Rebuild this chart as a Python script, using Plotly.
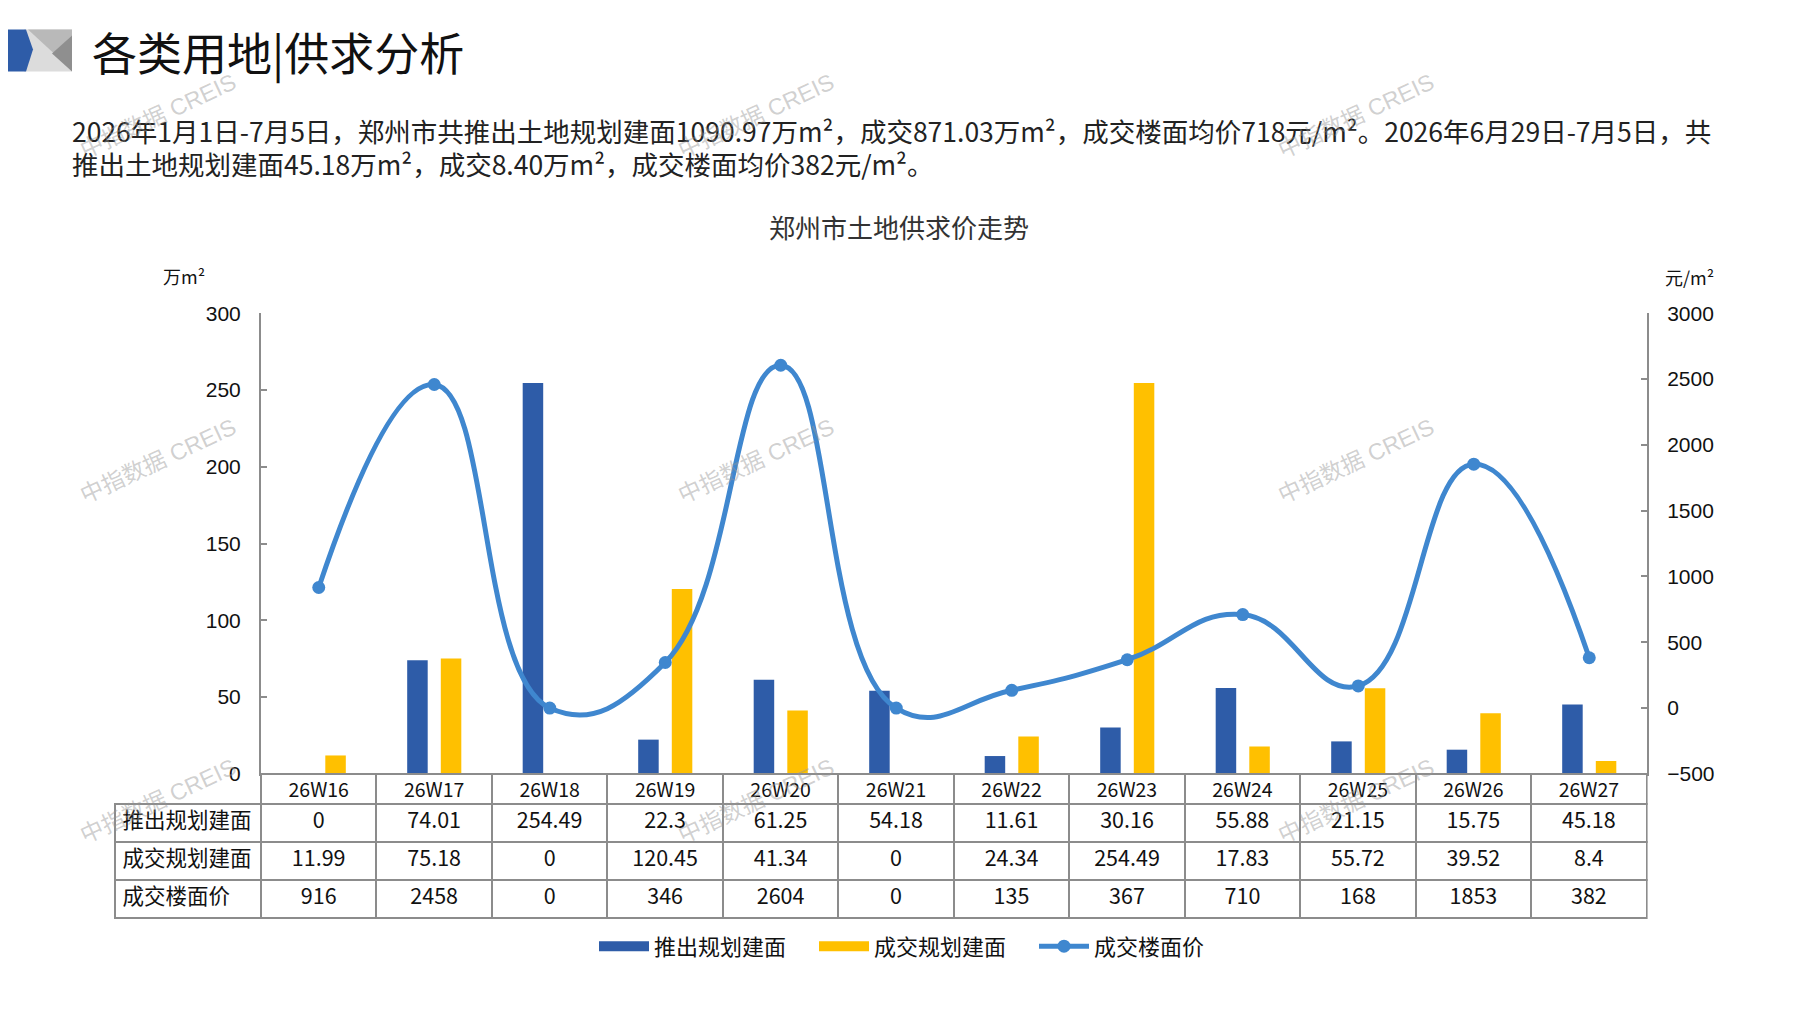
import plotly.graph_objs as go

# data
weeks = ["26W16", "26W17", "26W18", "26W19", "26W20", "26W21",
         "26W22", "26W23", "26W24", "26W25", "26W26", "26W27"]
supply_area = [0, 74.01, 254.49, 22.3, 61.25, 54.18, 11.61, 30.16, 55.88, 21.15, 15.75, 45.18]
deal_area = [11.99, 75.18, 0, 120.45, 41.34, 0, 24.34, 254.49, 17.83, 55.72, 39.52, 8.4]
deal_price = [916, 2458, 0, 346, 2604, 0, 135, 367, 710, 168, 1853, 382]
series_names = ["推出规划建面", "成交规划建面", "成交楼面价"]

# page is 1797x1010, the html body adds an 8px margin around the figure
PAD = 8
W, H = 1797 - 2 * PAD, 1010 - 2 * PAD
BLUE = "#2E5CA8"
GOLD = "#FFC000"
LINE = "#3F87CF"
GRID = "#8c8c8c"
CJK = "Noto Sans CJK SC"


def px(x):
    return (x - PAD) / W


def py(y):
    # vertical fix measured against the screenshot
    t = (y - 10.7) / 0.977
    return 1 - (t - PAD) / H


fig = go.Figure()

fig.add_trace(go.Bar(x=weeks, y=supply_area, name=series_names[0], showlegend=False,
                     marker=dict(color=BLUE, line=dict(width=0))))
fig.add_trace(go.Bar(x=weeks, y=deal_area, name=series_names[1], showlegend=False,
                     marker=dict(color=GOLD, line=dict(width=0))))
# wide legend swatches like the excel legend
for nm, col in zip(series_names[:2], [BLUE, GOLD]):
    fig.add_trace(go.Scatter(x=[None], y=[None], name=nm, mode="lines",
                             line=dict(color=col, width=12)))
fig.add_trace(go.Scatter(x=weeks, y=deal_price, name=series_names[2], yaxis="y2",
                         mode="lines+markers",
                         line=dict(color=LINE, width=5, shape="spline", smoothing=1.3),
                         marker=dict(color=LINE, size=13)))

# data table under the plot (Excel style)
fmt = lambda v: f"{v:g}"
cols = [series_names] + [[fmt(a), fmt(b), fmt(c)]
                         for a, b, c in zip(supply_area, deal_area, deal_price)]
fig.add_trace(go.Table(
    domain=dict(x=[px(114.6), px(1647)], y=[py(922), py(772.5)]),
    columnwidth=[146.4] + [115.5] * len(weeks),
    header=dict(values=[""] + weeks, height=30,
                align="center",
                fill=dict(color=["rgba(0,0,0,0)"] + ["white"] * len(weeks)),
                line=dict(color=["rgba(0,0,0,0)"] + [GRID] * len(weeks), width=2),
                font=dict(family=CJK, size=19.5, color="#111")),
    cells=dict(values=cols, height=38,
               align=["left"] + ["center"] * len(weeks),
               fill=dict(color="white"),
               line=dict(color=GRID, width=2),
               font=dict(family=CJK, size=21.5, color="#111")),
))

axis_font = dict(family="Liberation Sans, Arial", size=21, color="#111")

fig.update_layout(
    width=W, height=H,
    margin=dict(l=0, r=0, t=0, b=0),
    paper_bgcolor="white", plot_bgcolor="white",
    barmode="group", bargap=0.418, bargroupgap=0.39,
    xaxis=dict(domain=[px(261), px(1647)], range=[-0.5, 11.5],
               showticklabels=False, ticks="", showgrid=False,
               showline=True, linecolor=GRID, linewidth=2),
    yaxis=dict(domain=[py(772.5), py(311.7)], range=[0, 300], dtick=50,
               showgrid=False, zeroline=False,
               showline=True, linecolor=GRID, linewidth=2,
               ticks="inside", ticklen=6, tickcolor=GRID, tickwidth=1.5,
               ticklabelstandoff=14, tickfont=axis_font),
    yaxis2=dict(overlaying="y", side="right", range=[-500, 3000], dtick=500,
                showgrid=False, zeroline=False,
                showline=True, linecolor=GRID, linewidth=2,
                ticks="inside", ticklen=6, tickcolor=GRID, tickwidth=1.5,
                ticklabelstandoff=14, tickfont=axis_font),
    legend=dict(orientation="h", x=px(924), xanchor="center",
                y=py(945), yanchor="middle",
                font=dict(family=CJK, size=22, color="#111"),
                itemwidth=50, entrywidth=155, traceorder="normal"),
    showlegend=True,
)

# header logo
logo = [
    ([(24, 28), (72, 28), (72, 70), (24, 70)], "#dcdcdc"),
    ([(28, 28), (72, 28), (72, 34), (54, 52)], "#b9b9b9"),
    ([(72, 34), (72, 70), (52, 52)], "#8f8f8f"),
    ([(0, 28), (26, 28), (33, 48), (26, 70), (0, 70)], BLUE),
]
for pts, col in logo:
    path = "M" + " L".join(f"{px(x):.5f},{py(y):.5f}" for x, y in pts) + " Z"
    fig.add_shape(type="path", xref="paper", yref="paper", path=path,
                  fillcolor=col, line=dict(width=0), layer="above")

notes = [
    dict(text="各类用地|供求分析", x=px(90), y=py(50), xanchor="left",
         font=dict(family=CJK, size=45, color="#111")),
    dict(text="2026年1月1日-7月5日，郑州市共推出土地规划建面1090.97万m²，成交871.03万m²，"
              "成交楼面均价718元/m²。2026年6月29日-7月5日，共",
         x=px(70), y=py(129.5), xanchor="left",
         font=dict(family=CJK, size=26.5, color="#222")),
    dict(text="推出土地规划建面45.18万m²，成交8.40万m²，成交楼面均价382元/m²。",
         x=px(70), y=py(161.6), xanchor="left",
         font=dict(family=CJK, size=26.5, color="#222")),
    dict(text="郑州市土地供求价走势", x=px(899), y=py(224.6), xanchor="center",
         font=dict(family=CJK, size=26, color="#333")),
    dict(text="万m²", x=px(184), y=py(275), xanchor="center",
         font=dict(family=CJK, size=18, color="#111")),
    dict(text="元/m²", x=px(1689), y=py(276), xanchor="center",
         font=dict(family=CJK, size=18, color="#111")),
]
for n in notes:
    fig.add_annotation(xref="paper", yref="paper", yanchor="middle",
                       showarrow=False, **n)

# CREIS watermarks
for wx in (158, 756, 1356):
    for wy in (115, 460, 800):
        fig.add_annotation(xref="paper", yref="paper", x=px(wx), y=py(wy),
                           xanchor="center", yanchor="middle",
                           text="中指数据 CREIS", showarrow=False, textangle=-25,
                           font=dict(family="Liberation Sans, Noto Sans CJK SC", size=23,
                                     color="rgba(150,150,150,0.45)"))

fig.write_html("out.html")
